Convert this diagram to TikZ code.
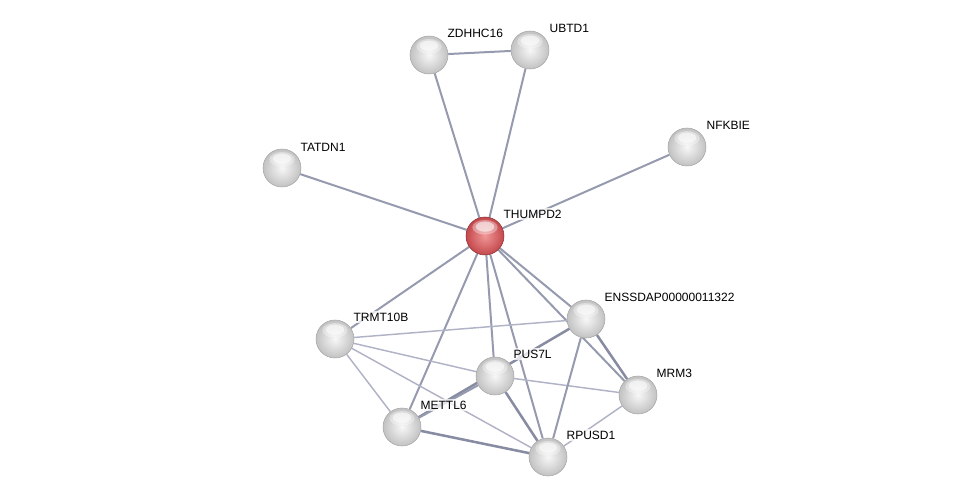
\documentclass[tikz,border=0pt]{standalone}
\usepackage{fontspec}
\setmainfont{Liberation Sans}
\usetikzlibrary{backgrounds,calc}
\definecolor{hubout}{RGB}{196,72,76}
\definecolor{hubin}{RGB}{240,150,150}
\begin{document}
\begin{tikzpicture}[x=0.75pt,y=-0.75pt,
  prot/.style={circle,minimum size=28.5pt,inner sep=0pt,draw=gray!70,line width=0.4pt,
     inner color=gray!6,outer color=gray!48,
     path picture={
       \fill[white,opacity=0.35] ($(path picture bounding box.center)+(0,6.5pt)$) ellipse (9.5pt and 5.5pt);
       \fill[white,opacity=0.55] ($(path picture bounding box.center)+(0,7pt)$) ellipse (7pt and 3.8pt);}},
  hub/.style={prot,inner color=hubin,outer color=hubout,draw=hubout!70!black},
  lab/.style={font=\fontsize{9pt}{10pt}\selectfont,anchor=west,inner sep=1pt,fill=white,fill opacity=0.75,text opacity=1},
  ethick/.style={draw={rgb,255:red,136;green,140;blue,162},line width=1.9pt},
  emed/.style={draw={rgb,255:red,150;green,154;blue,174},line width=1.5pt},
  ethin/.style={draw={rgb,255:red,176;green,179;blue,198},line width=1.1pt}]
\useasboundingbox (0,0) rectangle (975,502);
\node[prot] (zdhhc) at (429,55) {};
\node[prot] (ubtd) at (530,50) {};
\node[prot] (tatdn) at (282,168) {};
\node[prot] (nfkbie) at (687,147) {};
\node[hub] (thumpd) at (485,236) {};
\node[prot] (trmt) at (335,339) {};
\node[prot] (enss) at (586,319) {};
\node[prot] (pus) at (495,376) {};
\node[prot] (mrm) at (638,395) {};
\node[prot] (mettl) at (402,427) {};
\node[prot] (rpusd) at (548,457) {};
\begin{scope}[on background layer]
\path[emed] (zdhhc) -- (ubtd);
\path[emed] (zdhhc) -- (thumpd);
\path[emed] (ubtd) -- (thumpd);
\path[emed] (tatdn) -- (thumpd);
\path[emed] (nfkbie) -- (thumpd);
\path[emed] (thumpd) -- (trmt);
\path[emed] (thumpd) -- (mettl);
\path[emed] (thumpd) -- (pus);
\path[emed] (thumpd) -- (rpusd);
\path[emed] (thumpd) -- (enss);
\path[emed] (thumpd) -- (mrm);
\path[ethin] (trmt) -- (enss);
\path[ethin] (trmt) -- (pus);
\path[ethin] (trmt) -- (rpusd);
\path[ethin] (trmt) -- (mettl);
\path[ethin] (pus) -- (mrm);
\path[ethin] (mrm) -- (rpusd);
\path[emed] (enss) -- (rpusd);
\path[ethick] (enss) -- (mrm);
\path[ethick] (mettl) -- (enss);
\path[emed] (mettl) -- (pus);
\path[ethick] (mettl) -- (rpusd);
\path[ethick] (pus) -- (rpusd);
\end{scope}
% labels
\node[lab] (lzd) at (446,33) {ZDHHC16};
\node[lab] (lub) at (548,28) {UBTD1};
\node[lab] (lta) at (299,147) {TATDN1};
\node[lab] (lnf) at (705,125) {NFKBIE};
\node[lab] (lth) at (502,214) {THUMPD2};
\node[lab] (ltr) at (352,317) {TRMT10B};
\node[lab] (len) at (603,297) {ENSSDAP00000011322};
\node[lab] (lpu) at (512,354) {PUS7L};
\node[lab] (lmr) at (655,373) {MRM3};
\node[lab] (lme) at (419,405) {METTL6};
\node[lab] (lrp) at (565,435) {RPUSD1};
\end{tikzpicture}
\end{document}
